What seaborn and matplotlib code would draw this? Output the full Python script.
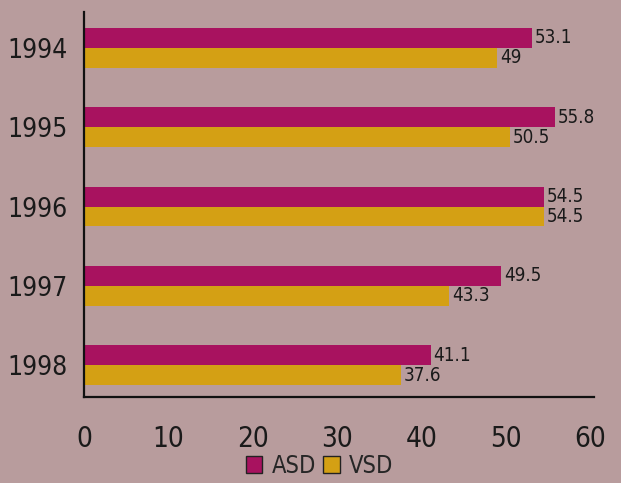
import numpy as np
import pandas as pd
import matplotlib
matplotlib.use("Agg")
import matplotlib.pyplot as plt
import seaborn as sns
from matplotlib.patches import Patch

years = ["1994", "1995", "1996", "1997", "1998"]
asd = [53.1, 55.8, 54.5, 49.5, 41.1]
vsd = [49, 50.5, 54.5, 43.3, 37.6]
asd_labels = ["53.1", "55.8", "54.5", "49.5", "41.1"]
vsd_labels = ["49", "50.5", "54.5", "43.3", "37.6"]

df = pd.DataFrame({
    "year": years * 2,
    "value": asd + vsd,
    "type": ["ASD"] * len(years) + ["VSD"] * len(years),
})

bg = "#b89c9d"
sns.set_style("white")
plt.rcParams['font.family'] = ['DejaVu Sans']
plt.rcParams['font.stretch'] = 'condensed'

fig = plt.figure(figsize=(6.21, 4.83), dpi=100, facecolor=bg)
ax = fig.add_axes([0.135, 0.178, 0.822, 0.797])
ax.set_facecolor(bg)

sns.barplot(data=df, x="value", y="year", hue="type", orient="h",
            palette=["#a8125f", "#d4a014"], width=0.5, gap=0.0,
            saturation=1, linewidth=0, edgecolor="none", ax=ax, legend=False)

for cont, labs in zip(ax.containers, [asd_labels, vsd_labels]):
    ax.bar_label(cont, labels=labs, padding=2, fontsize=13.5, color="#1a1a1a")

ax.set_xlim(0, 60.5)
ax.set_ylim(4.4, -0.45)
ax.set_xticks(range(0, 61, 10))
ax.set_xlabel("")
ax.set_ylabel("")
ax.tick_params(axis="x", length=0, labelsize=20, pad=20, colors="#1a1a1a")
ax.tick_params(axis="y", length=0, labelsize=19, pad=12, colors="#1a1a1a")
for s in ["top", "right"]:
    ax.spines[s].set_visible(False)
for s in ["left", "bottom"]:
    ax.spines[s].set_color("#111111")
    ax.spines[s].set_linewidth(1.6)

handles = [Patch(facecolor="#a8125f", edgecolor="#222222", label="ASD"),
           Patch(facecolor="#d4a014", edgecolor="#222222", label="VSD")]
fig.legend(handles=handles, loc="center", bbox_to_anchor=(0.515, 0.036), ncol=2,
           frameon=False, fontsize=17, handlelength=0.7, handleheight=0.7,
           handletextpad=0.4, columnspacing=0.3)

fig.savefig("out.png", dpi=100, facecolor=bg)
